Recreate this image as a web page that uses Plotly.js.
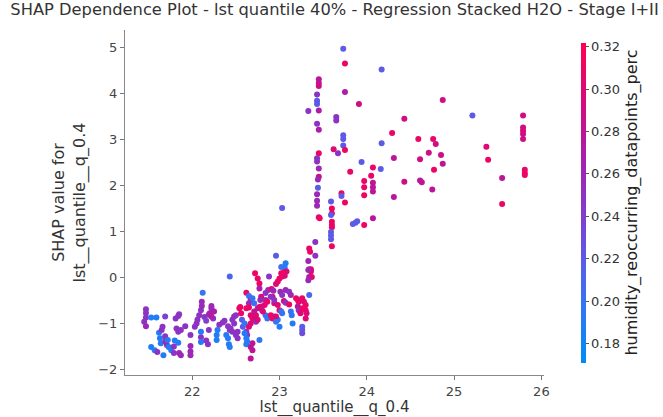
<!DOCTYPE html>
<html><head><meta charset="utf-8">
<script src="https://cdn.plot.ly/plotly-3.0.1.min.js"></script>
<style>html,body{margin:0;padding:0;background:#fff}#chart{width:663px;height:417px}</style>
</head><body><div id="chart"></div>
<script>
// feature value (lst__quantile__q_0.4)
const featX = [
23.73,23.75,24.17,23.45,23.45,23.45,23.75,23.43,23.43,23.43,23.91,23.33,23.45,24.87,23.65,23.65,23.43,23.45,24.43,25.21,
25.79,25.79,25.79,25.79,25.79,23.73,23.73,23.73,24.29,24.17,23.62,23.67,23.75,24.59,24.76,24.79,23.45,23.43,23.43,23.45,
23.45,23.44,23.44,23.43,23.43,23.43,23.45,23.46,24.31,24.61,24.71,24.85,24.87,24.77,25.37,25.39,25.55,25.55,25.81,25.81,
25.81,23.94,24.07,23.81,24.16,24.05,23.97,23.97,23.97,24.07,24.07,24.07,24.43,24.61,24.63,24.75,24.31,23.71,23.71,23.75,
24.07,23.97,23.84,23.87,23.89,23.59,23.60,23.60,23.59,23.60,23.60,23.60,23.59,23.59,23.59,23.60,23.41,23.41,23.34,23.35,
23.33,23.34,23.36,23.34,23.37,23.03,23.07,23.06,23.08,23.36,
21.47,21.47,21.47,21.45,21.47,21.53,21.59,21.53,21.57,21.60,21.62,21.63,21.64,21.66,21.65,21.69,21.69,21.69,21.71,21.67,
21.73,21.76,21.72,21.79,21.81,21.84,21.85,21.82,21.84,21.87,21.85,21.87,21.80,21.84,21.79,21.92,21.98,21.98,21.98,21.98,
22.03,22.05,22.06,22.08,22.10,22.11,22.11,22.12,22.14,22.16,22.10,22.10,22.10,22.16,22.18,22.19,22.22,22.22,22.19,22.24,
22.29,22.28,22.28,22.31,22.35,22.37,22.41,22.43,22.43,22.39,22.41,22.42,22.43,22.46,22.48,22.50,22.48,22.52,22.54,22.57,
22.58,22.60,22.62,22.63,22.62,22.62,22.65,22.67,22.65,22.62,22.65,22.67,22.69,22.67,22.65,22.67,22.67,22.71,22.73,22.73,
22.72,22.75,22.77,22.77,22.79,22.78,22.75,22.79,22.80,22.83,22.84,22.86,22.88,22.87,22.91,22.93,22.84,22.86,22.92,22.94,
22.94,22.98,23.00,22.96,23.02,23.02,23.03,23.05,23.06,23.00,22.98,22.96,23.01,23.03,23.07,23.11,23.13,23.05,23.07,23.11,
23.13,23.14,23.15,23.19,23.21,23.22,23.21,23.22,23.24,23.26,23.28,23.30,23.26,23.30,23.31,23.30,23.26,23.26,23.26,23.34,
23.33,23.33,22.69,22.71,22.77,22.81,22.55,22.56,22.75,22.84,22.90,22.94,22.98,23.00,22.90,22.92,22.96,22.69,22.69,22.44,
22.46,22.50,22.52,22.60,22.62,22.63,22.77,22.96,23.02,23.03,22.20,22.22,22.25
];
// SHAP value for lst__quantile__q_0.4
const shapY = [
4.96,4.64,4.51,4.30,4.22,4.15,4.02,3.97,3.83,3.76,3.76,3.61,3.62,3.85,3.48,3.40,3.33,3.20,3.44,3.51,
3.51,3.25,3.18,3.11,3.00,3.08,3.00,2.86,3.13,2.91,2.78,2.69,2.76,3.00,3.00,2.89,2.69,2.58,2.51,2.36,
2.18,2.12,1.94,1.80,1.66,1.55,1.30,1.28,2.59,2.56,2.70,2.65,2.46,2.33,2.83,2.55,2.15,1.59,2.33,2.26,
2.22,2.50,2.38,2.29,2.35,2.20,2.09,1.95,1.78,2.05,1.95,1.86,2.07,2.10,2.06,1.90,1.74,1.82,1.76,1.62,
1.28,1.13,1.15,1.18,1.21,1.64,1.49,1.38,1.35,1.20,1.13,1.08,0.98,0.90,0.82,0.67,0.76,0.46,0.62,0.55,
0.35,0.17,0.17,0.00,0.00,1.50,0.30,0.20,0.12,0.12,
-0.70,-0.78,-0.88,-0.97,-1.07,-0.88,-0.88,-1.52,-1.59,-1.63,-1.21,-1.33,-1.44,-1.08,-1.15,-0.86,-1.29,-1.40,-1.48,-1.70,
-1.52,-1.59,-1.37,-1.65,-0.90,-0.85,-0.81,-1.12,-1.19,-1.15,-1.65,-1.70,-1.38,-1.43,-1.51,-1.07,-1.26,-1.50,-1.62,-1.70,
-1.08,-1.01,-0.93,-0.83,-0.72,-0.63,-0.54,-0.34,-0.87,-0.95,-1.19,-1.31,-1.41,-1.38,-1.46,-1.15,-0.63,-0.68,-0.82,-0.90,
-1.15,-1.26,-1.37,-1.04,-0.99,-0.95,-1.07,-1.15,0.01,-1.26,-1.33,-1.46,-1.52,-0.93,-0.86,-0.83,-1.01,-1.19,-0.68,-0.93,
-1.08,-1.01,-1.19,-1.26,-1.46,-0.34,-0.41,-0.50,-0.57,-0.68,-0.66,-0.83,-0.90,-1.01,-1.08,-1.52,-1.77,-0.75,-0.83,-0.97,
0.08,-0.03,-0.14,-0.25,-0.43,-0.50,-0.68,-0.64,-0.72,-0.61,-0.50,-0.54,0.01,-0.28,-0.26,-0.30,-0.83,-0.90,-0.43,-0.57,
-0.86,-0.93,-1.08,0.46,0.22,0.08,0.01,0.10,0.03,-0.03,-0.10,-0.15,-0.32,-0.39,-0.28,-0.32,-0.39,-0.52,-0.56,-0.60,
-0.75,-0.83,-1.01,-0.46,-0.50,-0.54,-0.64,-0.72,-0.79,-0.46,-0.54,-0.61,-0.68,-0.72,-0.79,-0.90,-1.08,-1.15,-1.22,-0.39,
-0.07,0.15,-0.46,-0.57,-0.65,-0.75,-0.65,-0.79,-0.93,-0.35,-0.43,-0.50,-0.61,-0.72,-0.83,-0.90,-0.86,-1.44,-1.59,-1.12,
-1.19,-1.26,-1.33,-1.22,-1.33,-1.40,-1.37,-0.97,-0.75,-0.79,-0.79,-0.86,-0.75
];
// humidity_reoccurring_datapoints_perc (colour)
const humidity = [
0.22,0.31,0.22,0.28,0.28,0.29,0.27,0.25,0.22,0.22,0.29,0.25,0.27,0.29,0.25,0.25,0.25,0.27,0.29,0.22,
0.29,0.29,0.30,0.29,0.29,0.22,0.22,0.22,0.31,0.22,0.30,0.25,0.31,0.31,0.31,0.29,0.31,0.25,0.25,0.26,
0.29,0.26,0.22,0.26,0.26,0.26,0.30,0.31,0.28,0.29,0.29,0.29,0.28,0.31,0.30,0.31,0.28,0.31,0.31,0.31,
0.31,0.22,0.31,0.31,0.22,0.31,0.31,0.31,0.31,0.28,0.28,0.28,0.29,0.28,0.28,0.28,0.28,0.31,0.22,0.31,
0.28,0.31,0.22,0.22,0.22,0.22,0.31,0.31,0.22,0.31,0.31,0.31,0.22,0.22,0.22,0.31,0.25,0.25,0.31,0.31,
0.26,0.27,0.30,0.27,0.30,0.22,0.19,0.19,0.30,0.30,
0.25,0.25,0.25,0.25,0.26,0.19,0.19,0.19,0.19,0.25,0.19,0.19,0.19,0.25,0.25,0.24,0.25,0.25,0.26,0.19,
0.19,0.19,0.19,0.25,0.25,0.25,0.25,0.25,0.25,0.25,0.26,0.26,0.19,0.19,0.25,0.25,0.25,0.26,0.26,0.26,
0.25,0.25,0.25,0.25,0.25,0.26,0.26,0.20,0.25,0.24,0.19,0.25,0.19,0.25,0.25,0.25,0.26,0.26,0.25,0.25,
0.19,0.19,0.19,0.25,0.25,0.25,0.25,0.25,0.21,0.19,0.19,0.19,0.19,0.25,0.25,0.25,0.25,0.25,0.30,0.22,
0.22,0.20,0.25,0.25,0.19,0.31,0.20,0.25,0.26,0.31,0.31,0.30,0.30,0.30,0.30,0.28,0.28,0.28,0.30,0.26,
0.31,0.31,0.31,0.27,0.30,0.26,0.27,0.31,0.26,0.30,0.26,0.31,0.25,0.26,0.30,0.26,0.20,0.20,0.31,0.29,
0.20,0.20,0.19,0.22,0.20,0.31,0.31,0.31,0.30,0.31,0.31,0.30,0.26,0.25,0.26,0.25,0.26,0.30,0.25,0.31,
0.20,0.20,0.19,0.31,0.31,0.31,0.28,0.25,0.30,0.31,0.30,0.31,0.31,0.31,0.30,0.30,0.22,0.22,0.23,0.21,
0.26,0.26,0.20,0.20,0.30,0.30,0.31,0.31,0.30,0.25,0.25,0.25,0.30,0.31,0.31,0.31,0.30,0.28,0.28,0.25,
0.25,0.25,0.25,0.19,0.19,0.19,0.20,0.20,0.20,0.20,0.27,0.27,0.27
];
const xTicks = [22, 23, 24, 25, 26];
const yTicks = [-2, -1, 0, 1, 2, 3, 4, 5];
const cTicks = [0.18, 0.20, 0.22, 0.24, 0.26, 0.28, 0.30, 0.32];

const shapRedBlue = [
  [0.00, 'rgb(0,139,250)'],
  [0.18, 'rgb(50,118,244)'],
  [0.35, 'rgb(100,85,228)'],
  [0.50, 'rgb(135,55,200)'],
  [0.65, 'rgb(170,30,170)'],
  [0.80, 'rgb(210,12,130)'],
  [1.00, 'rgb(255,0,82)']
];

const trace = {
  type: 'scatter', mode: 'markers',
  x: featX, y: shapY,
  marker: {
    size: 6, color: humidity, colorscale: shapRedBlue, cmin: 0.171, cmax: 0.322,
    line: {width: 0},
    colorbar: {
      x: 1.062, xanchor: 'left', y: 0.5, yanchor: 'middle', len: 0.985, lenmode: 'fraction',
      thickness: 5, outlinewidth: 0, ticks: 'outside', ticklen: 3, tickcolor: '#555',
      tickvals: cTicks, ticktext: cTicks.map(v => v.toFixed(2)),
      tickfont: {family: 'DejaVu Sans', size: 13, color: '#333'},
      title: {text: 'humidity_reoccurring_datapoints_perc', side: 'right',
              font: {family: 'DejaVu Sans', size: 16, color: '#222'}}
    }
  },
  hoverinfo: 'skip', showlegend: false
};

const layout = {
  width: 663, height: 417,
  margin: {l: 125, r: 118, t: 30, b: 42},
  paper_bgcolor: '#fff', plot_bgcolor: '#fff',
  font: {family: 'DejaVu Sans', color: '#333'},
  title: {text: 'SHAP Dependence Plot - lst quantile 40% - Regression Stacked H2O - Stage I+II',
          x: 0.5, xref: 'paper', xanchor: 'center', y: 0.992, yanchor: 'top',
          font: {family: 'DejaVu Sans', size: 16.3, color: '#333'}},
  xaxis: {
    range: [21.23, 26.03], tickvals: xTicks, ticks: 'outside', ticklen: 4, tickcolor: '#777',
    showgrid: false, zeroline: false, showline: true, linecolor: '#888', linewidth: 1,
    tickfont: {size: 13, color: '#444'},
    title: {text: 'lst__quantile__q_0.4', standoff: 4, font: {size: 15, color: '#333'}}
  },
  yaxis: {
    range: [-2.13, 5.37], tickvals: yTicks, ticks: 'outside', ticklen: 4, tickcolor: '#777',
    showgrid: false, zeroline: false, showline: true, linecolor: '#888', linewidth: 1,
    tickfont: {size: 13, color: '#444'},
    title: {text: 'SHAP value for<br>lst__quantile__q_0.4', standoff: 8, font: {size: 16, color: '#333'}}
  }
};

Plotly.newPlot('chart', [trace], layout, {staticPlot: true, displayModeBar: false});
</script>
</body></html>
